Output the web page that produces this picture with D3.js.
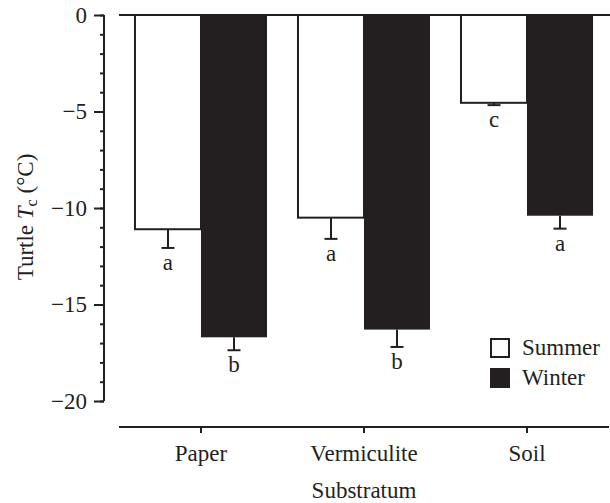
<!DOCTYPE html>
<html>
<head>
<meta charset="utf-8">
<script src="https://cdn.jsdelivr.net/npm/d3@7/dist/d3.min.js"></script>
<style>
  html, body { margin: 0; padding: 0; background: #fff; }
  svg { display: block; }
  text { font-family: "Liberation Serif", "Times New Roman", serif; fill: #231f20; }
</style>
</head>
<body>
<svg id="chart" width="610" height="503"></svg>
<script>
const categories = ["Paper", "Vermiculite", "Soil"];
const seasons = ["Summer", "Winter"];
const summerMeans = [-11.1, -10.5, -4.55];
const summerSE = [0.97, 1.1, 0.12];
const summerLetters = ["a", "a", "c"];
const winterMeans = [-16.7, -16.3, -10.4];
const winterSE = [0.67, 0.9, 0.67];
const winterLetters = ["b", "b", "a"];
const yMajorTicks = [0, -5, -10, -15, -20];
const yMinorTicks = d3.range(0, -21, -1);

const ink = "#231f20";
const fontSize = 23;

const svg = d3.select("#chart");

const y = d3.scaleLinear().domain([0, -20]).range([15, 401]);
const x = d3.scaleBand().domain(categories).range([119, 609])
  .paddingInner(0.19).paddingOuter(0.098);
const xs = d3.scaleBand().domain(seasons).range([0, x.bandwidth()]);

const data = [];
categories.forEach((c, i) => {
  data.push({cat: c, season: "Summer", mean: summerMeans[i], se: summerSE[i], letter: summerLetters[i]});
  data.push({cat: c, season: "Winter", mean: winterMeans[i], se: winterSE[i], letter: winterLetters[i]});
});

// bars
svg.append("g").selectAll("rect").data(data).join("rect")
  .attr("x", d => x(d.cat) + xs(d.season))
  .attr("y", y(0))
  .attr("width", xs.bandwidth())
  .attr("height", d => y(d.mean) - y(0))
  .attr("fill", d => d.season === "Summer" ? "#fff" : ink)
  .attr("stroke", ink)
  .attr("stroke-width", d => d.season === "Summer" ? 2 : 0);

// error bars
const eb = svg.append("g").attr("stroke", ink).attr("stroke-width", 2);
data.forEach(d => {
  const cx = x(d.cat) + xs(d.season) + xs.bandwidth() / 2;
  eb.append("line").attr("x1", cx).attr("x2", cx)
    .attr("y1", y(d.mean)).attr("y2", y(d.mean - d.se));
  eb.append("line").attr("x1", cx - 6.5).attr("x2", cx + 6.5)
    .attr("y1", y(d.mean - d.se)).attr("y2", y(d.mean - d.se));
});

// significance letters
svg.append("g").selectAll("text").data(data).join("text")
  .attr("x", d => x(d.cat) + xs(d.season) + xs.bandwidth() / 2)
  .attr("y", d => y(d.mean - d.se) + 22)
  .attr("text-anchor", "middle")
  .attr("font-size", fontSize)
  .text(d => d.letter);

// zero baseline at top
svg.append("line")
  .attr("x1", 119).attr("x2", 610)
  .attr("y1", y(0)).attr("y2", y(0))
  .attr("stroke", ink).attr("stroke-width", 2);

// y axis
const yAxisG = svg.append("g").attr("transform", "translate(104,0)");
yAxisG.call(d3.axisLeft(y).tickValues(yMinorTicks).tickSize(4).tickFormat(""))
  .call(g => g.select(".domain").remove());
yAxisG.append("g").call(d3.axisLeft(y).tickValues(yMajorTicks).tickSize(10).tickSizeOuter(0)
    .tickPadding(7).tickFormat(d => d === 0 ? "0" : "\u2212" + Math.abs(d)));
yAxisG.selectAll("g").attr("font-family", null).attr("font-size", null);
yAxisG.attr("font-family", null).attr("font-size", null);
yAxisG.selectAll("line").attr("stroke", ink).attr("stroke-width", 2);
yAxisG.selectAll(".domain").attr("stroke", ink).attr("stroke-width", 2);
yAxisG.selectAll("text").attr("font-size", fontSize).attr("fill", ink);
yAxisG.selectAll(".domain").attr("d", `M0,${y(0)}V${y(-20)}`);

// x axis
const xAxisG = svg.append("g").attr("transform", "translate(0,427)");
xAxisG.call(d3.axisBottom(x).tickSize(6).tickSizeOuter(0).tickPadding(12));
xAxisG.attr("font-family", null).attr("font-size", null);
xAxisG.select(".domain").attr("stroke", ink).attr("stroke-width", 2).attr("d", "M119,0H609");
xAxisG.selectAll("line").attr("stroke", ink).attr("stroke-width", 2);
xAxisG.selectAll("text").attr("font-size", fontSize).attr("fill", ink);

// axis titles
svg.append("text")
  .attr("x", 364).attr("y", 498)
  .attr("text-anchor", "middle")
  .attr("font-size", fontSize)
  .text("Substratum");

const yl = svg.append("text")
  .attr("transform", "translate(33,217) rotate(-90)")
  .attr("text-anchor", "middle")
  .attr("font-size", fontSize);
yl.append("tspan").text("Turtle ");
yl.append("tspan").attr("font-style", "italic").text("T");
yl.append("tspan").attr("font-size", fontSize * 0.7).attr("dy", 4).text("c");
yl.append("tspan").attr("dy", -4).text(" (°C)");

// legend
const legend = svg.append("g");
const legendRows = [
  {label: "Summer", fill: "#fff", y: 338},
  {label: "Winter", fill: ink, y: 368}
];
legendRows.forEach(r => {
  legend.append("rect")
    .attr("x", 491).attr("y", r.y + 1)
    .attr("width", 18).attr("height", 18)
    .attr("fill", r.fill).attr("stroke", ink).attr("stroke-width", 2);
  legend.append("text")
    .attr("x", 522).attr("y", r.y + 17)
    .attr("font-size", fontSize)
    .text(r.label);
});
</script>
</body>
</html>
